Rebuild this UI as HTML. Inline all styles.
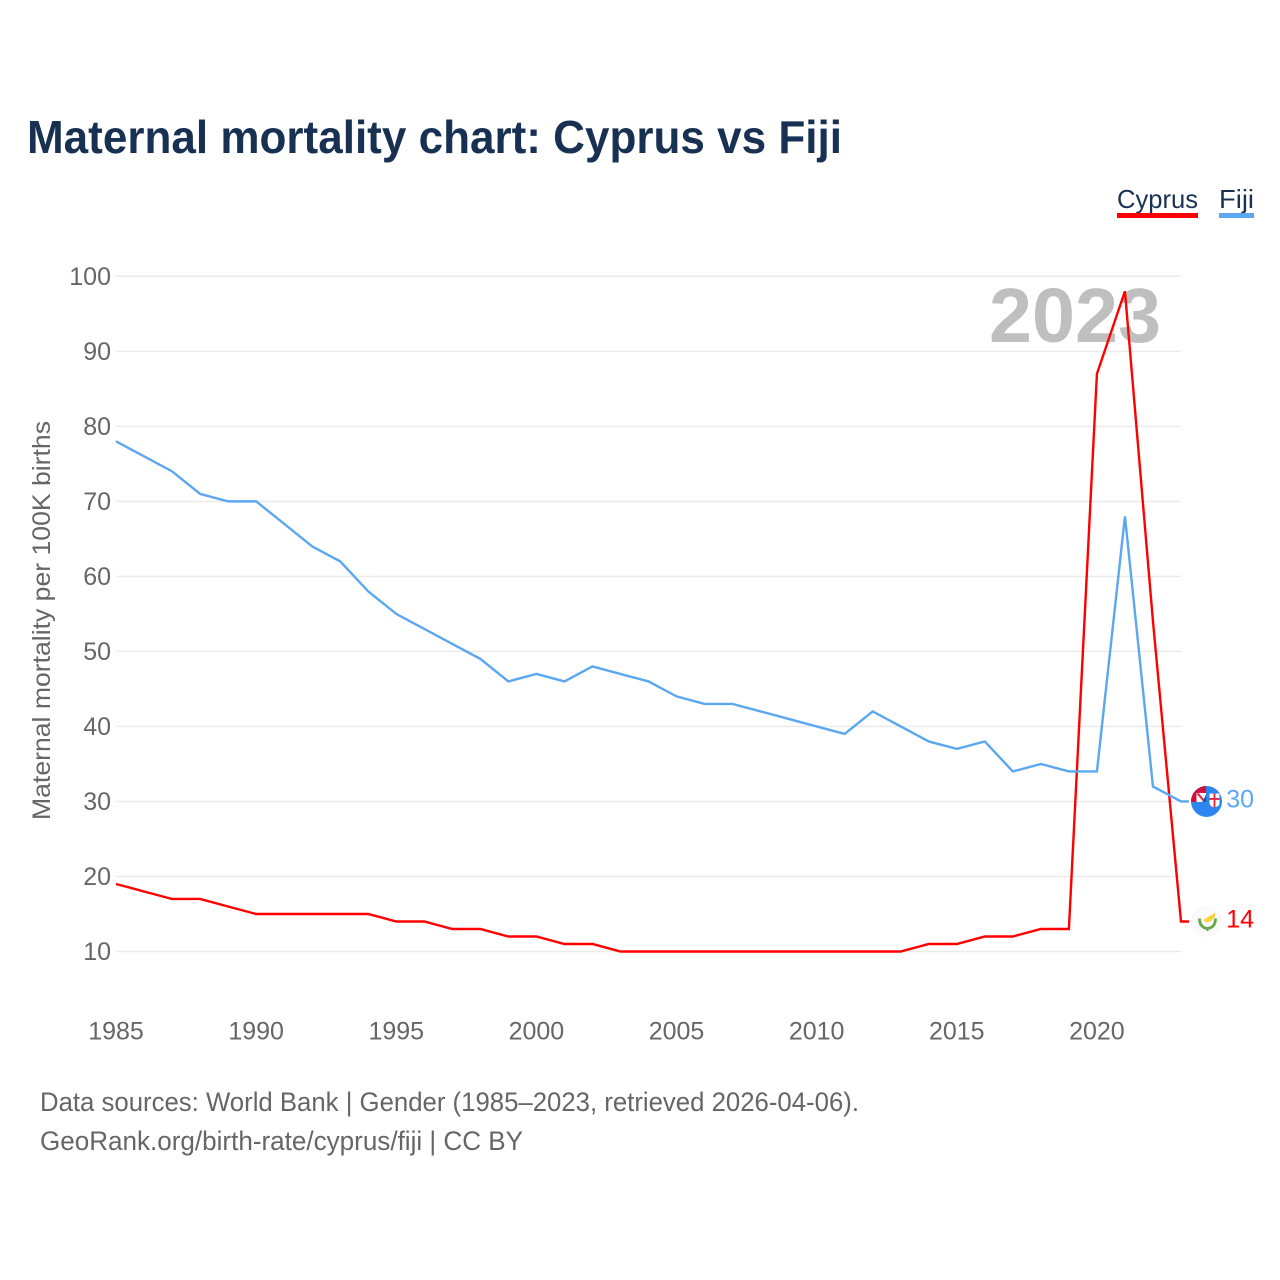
<!DOCTYPE html>
<html lang="en">
<head>
<meta charset="utf-8">
<title>Maternal mortality chart: Cyprus vs Fiji</title>
<style>
html,body{margin:0;padding:0;background:#fff;}
svg{display:block;font-family:"Liberation Sans",sans-serif;}
</style>
</head>
<body>
<svg id="chart" xmlns="http://www.w3.org/2000/svg" width="1280" height="1280" viewBox="0 0 1280 1280">
  <rect x="0" y="0" width="1280" height="1280" fill="#ffffff"/>
  <text x="27" y="153" font-size="46" font-weight="700" fill="#183153" textLength="815" lengthAdjust="spacingAndGlyphs">Maternal mortality chart: Cyprus vs Fiji</text>

  <g>
    <text x="1117" y="208" font-size="26" fill="#183153" textLength="81" lengthAdjust="spacingAndGlyphs">Cyprus</text>
    <rect x="1117" y="213" width="81" height="5" fill="#ff0000"/>
  </g>
  <g>
    <text x="1219" y="208" font-size="26" fill="#183153" textLength="35" lengthAdjust="spacingAndGlyphs">Fiji</text>
    <rect x="1219" y="213" width="35" height="5" fill="#5ca8f0"/>
  </g>

  <text transform="translate(50 620.5) rotate(-90)" text-anchor="middle" font-size="25" fill="#666666" textLength="399" lengthAdjust="spacingAndGlyphs">Maternal mortality per 100K births</text>

  <g id="grid"></g>
  <g id="yticks"></g>
  <g id="xticks"></g>

  <text x="989" y="342" font-size="77" font-weight="700" fill="#bfbfbf" textLength="172" lengthAdjust="spacingAndGlyphs">2023</text>

  <g id="series"></g>
  <g id="ends"></g>

  <text x="40" y="1111" font-size="27" fill="#666666" textLength="819" lengthAdjust="spacingAndGlyphs">Data sources: World Bank | Gender (1985–2023, retrieved 2026-04-06).</text>
  <text x="40" y="1150" font-size="27" fill="#666666" textLength="483" lengthAdjust="spacingAndGlyphs">GeoRank.org/birth-rate/cyprus/fiji | CC BY</text>
</svg>
<script>
const years = [1985,1986,1987,1988,1989,1990,1991,1992,1993,1994,1995,1996,1997,1998,1999,2000,2001,2002,2003,2004,2005,2006,2007,2008,2009,2010,2011,2012,2013,2014,2015,2016,2017,2018,2019,2020,2021,2022,2023];
const cyprusValues = [19,18,17,17,16,15,15,15,15,15,14,14,13,13,12,12,11,11,10,10,10,10,10,10,10,10,10,10,10,11,11,12,12,13,13,87,98,54,14];
const fijiValues = [78,76,74,71,70,70,67,64,62,58,55,53,51,49,46,47,46,48,47,46,44,43,43,42,41,40,39,42,40,38,37,38,34,35,34,34,68,32,30];
const yTickValues = [10,20,30,40,50,60,70,80,90,100];
const xTickValues = [1985,1990,1995,2000,2005,2010,2015,2020];

const NS = 'http://www.w3.org/2000/svg';
function xScale(year){ return 116 + (year - 1985) * (1181 - 116) / (2023 - 1985); }
function yScale(value){ return 951.5 - (value - 10) * (951.5 - 276.3) / 90; }
function make(tag, parent, attrs){
  const el = document.createElementNS(NS, tag);
  for (const k in attrs) el.setAttribute(k, attrs[k]);
  parent.appendChild(el);
  return el;
}

const gridG = document.getElementById('grid');
const yTicksG = document.getElementById('yticks');
const xTicksG = document.getElementById('xticks');
const seriesG = document.getElementById('series');
const endsG = document.getElementById('ends');

yTickValues.forEach(function(v){
  const line = make('line', gridG, {x1:116, x2:1181, y1:yScale(v), y2:yScale(v), stroke:'#ebebeb', 'stroke-width':1.5});
  
  
  const label = make('text', yTicksG, {x:111, y:yScale(v) + 8.5, 'text-anchor':'end', 'font-size':25, fill:'#666666'});
  
  
  label.textContent = v;
});

xTickValues.forEach(function(y){
  const label = make('text', xTicksG, {x:xScale(y), y:1039.5, 'text-anchor':'middle', 'font-size':25, fill:'#666666'});
  
  
  label.textContent = y;
});

function drawSeries(name, values, color, labelName){
  const last = values.length - 1;
  const pts = values.map(function(v, i){ return xScale(years[i]).toFixed(2) + ',' + yScale(v).toFixed(2); });
  pts.push((xScale(years[last]) + 8).toFixed(2) + ',' + yScale(values[last]).toFixed(2));
  const line = make('polyline', seriesG, {points:pts.join(' '), fill:'none', stroke:color, 'stroke-width':2.4, 'stroke-linejoin':'miter'});
  
  
  const label = make('text', endsG, {x:1254, y:yScale(values[last]) + 6, 'text-anchor':'end', 'font-size':25, fill:color});
  
  
  label.textContent = values[last];
}
drawSeries('cyprus', cyprusValues, '#ff0000', 'cyprus-end-value');
drawSeries('fiji', fijiValues, '#5ca8f0', 'fiji-end-value');

function drawFlag(name, value, draw){
  const g = make('g', endsG, {transform:'translate(1206.5 ' + yScale(value) + ')'});
  
  
  draw(g);
}

drawFlag('fiji-flag-marker', fijiValues[fijiValues.length - 1], function(g){
  make('circle', g, {cx:0, cy:0, r:15.5, fill:'#2e87f0'});
  make('path', g, {d:'M-0.5 0.5H-15.5A15.5 15.5 0 0 1 -0.5 -15.5Z', fill:'#d0103a'});
  make('path', g, {d:'M-0.5 0.5V-8.5H-10V0.5Z', fill:'#ffffff'});
  make('path', g, {d:'M-9 -8L-2 0', stroke:'#e0243f', 'stroke-width':2});
  make('path', g, {d:'M-0.5 -7L-4 0.5H-0.5Z', fill:'#27508f'});
  make('path', g, {d:'M3 -8H13V2Q13 4.5 8 6Q3 4.5 3 2Z', fill:'#ffffff'});
  make('path', g, {d:'M8 -8V6M3 -2.5H13', stroke:'#e0243f', 'stroke-width':1.8});
});

drawFlag('cyprus-flag-marker', cyprusValues[cyprusValues.length - 1], function(g){
  make('circle', g, {cx:0, cy:0, r:15.5, fill:'#fafafa'});
  make('path', g, {d:'M-3 -2L4 -6L9 -9L8 -4L4 0L-1 1Z', fill:'#fdd43f'});
  make('path', g, {d:'M-7 -3Q-7 6 1 7Q9 6 9 -3', fill:'none', stroke:'#6aa84a', 'stroke-width':2.8});
  make('path', g, {d:'M1 6V9.5', stroke:'#6aa84a', 'stroke-width':2});
});
</script>
</body>
</html>
